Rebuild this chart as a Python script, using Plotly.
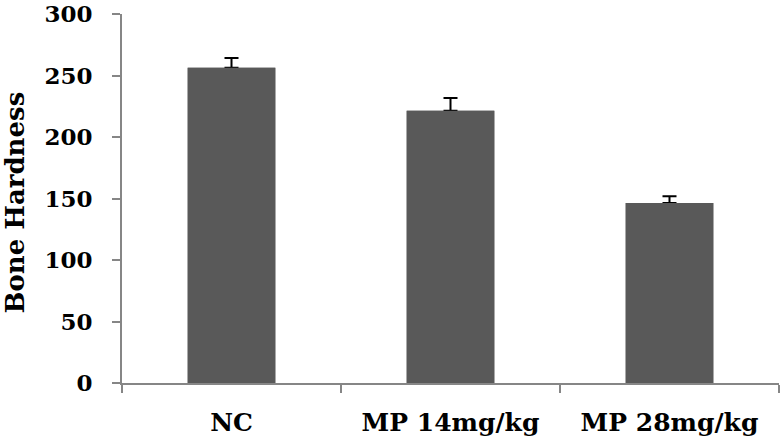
import plotly.graph_objects as go

categories = ["NC", "MP 14mg/kg", "MP 28mg/kg"]
values = [256.5, 221.5, 146.5]
errors = [8, 10.5, 5.5]
y_ticks = [0, 50, 100, 150, 200, 250, 300]

FONT = "DejaVu Serif"
fig = go.Figure()
# bars with upward error bars
fig.add_trace(go.Bar(
    x=categories, y=values, width=0.4,
    marker=dict(color="#595959", line=dict(width=0)),
    error_y=dict(type="data", symmetric=False, array=errors,
                 arrayminus=[0] * len(errors), color="#000000",
                 thickness=2, width=7),
    hoverinfo="skip",
))
# same bars on top, hiding the lower caps
fig.add_trace(go.Bar(
    x=categories, y=values, width=0.4,
    marker=dict(color="#595959", line=dict(width=0)),
))
fig.update_layout(
    width=781, height=442,
    margin=dict(l=122, r=2, t=14, b=59, autoexpand=False),
    paper_bgcolor="white", plot_bgcolor="white",
    showlegend=False, barmode="overlay",
    font=dict(family=FONT, color="#000000", size=24),
)
fig.update_yaxes(
    range=[0, 300.3], tickvals=y_ticks, showgrid=False, zeroline=False,
    showline=True, linecolor="#868686", linewidth=2,
    ticks="outside", ticklen=8, tickcolor="#868686", tickwidth=2,
    tickfont=dict(family=FONT, size=23, color="#000000", weight="bold"),
    ticklabelstandoff=15, ticklabeloverflow="allow", automargin=False,
)
fig.update_xaxes(
    showgrid=False, zeroline=False, showline=True, linecolor="#868686",
    linewidth=2, ticks="outside", ticklen=8, tickcolor="#868686", tickwidth=2,
    tickson="boundaries",
    tickfont=dict(family=FONT, size=25, color="#000000", weight="bold"),
    ticklabelstandoff=16, ticklabeloverflow="allow", automargin=False,
)
fig.add_annotation(
    text="Bone Hardness", textangle=-90, showarrow=False,
    xref="paper", yref="paper", x=0, y=0.5, xanchor="center", yanchor="middle",
    xshift=-108, yshift=-4,
    font=dict(family=FONT, size=26, color="#000000", weight="bold"),
)
fig.write_html("out.html", config={"displayModeBar": False},
               post_script="document.body.style.margin='0';")
